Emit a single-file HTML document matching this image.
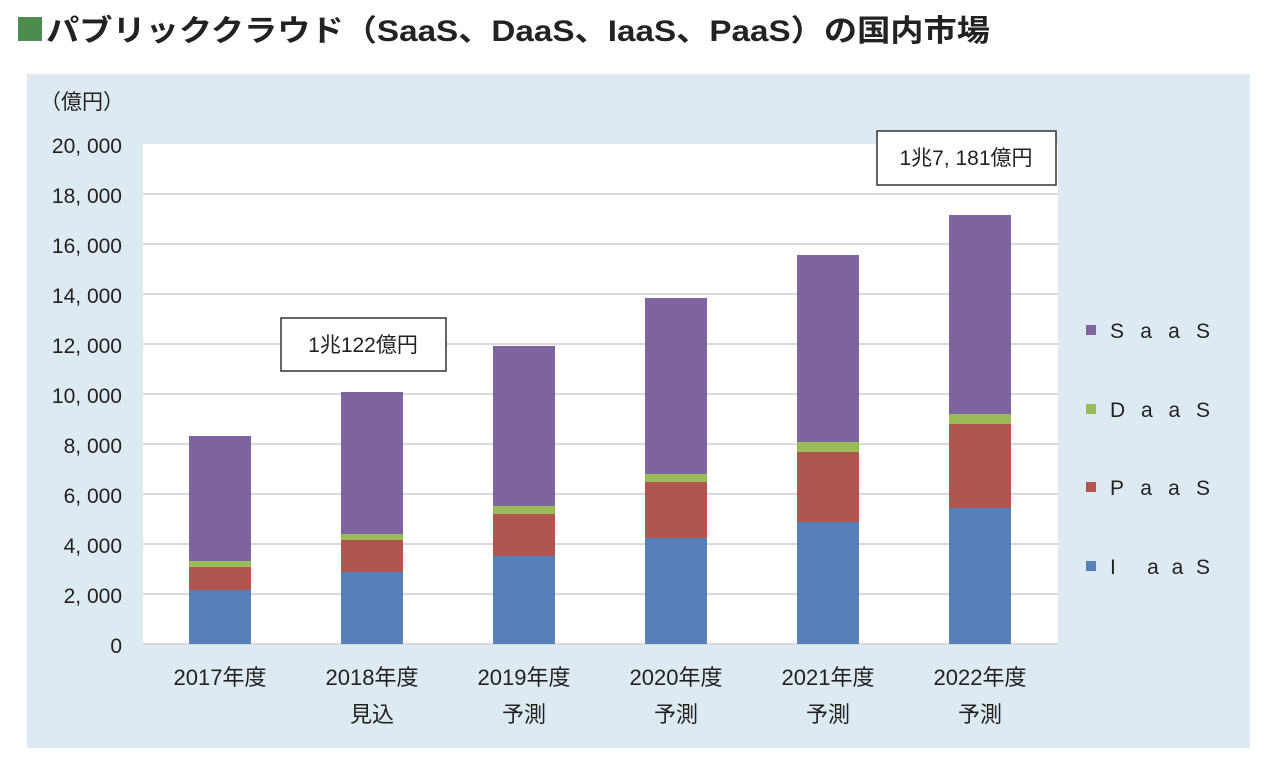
<!DOCTYPE html>
<html><head><meta charset="utf-8"><style>
body{margin:0;width:1276px;height:764px;background:#fff;overflow:hidden;font-family:"Liberation Sans","Noto Sans CJK JP",sans-serif;}
</style></head><body>
<svg width="1276" height="764" xmlns="http://www.w3.org/2000/svg" font-family="'Liberation Sans','Noto Sans CJK JP',sans-serif">
<rect x="18" y="17" width="24" height="24" fill="#4e8b4e"/>
<text x="46" y="41" font-size="30" font-weight="bold" fill="#222" textLength="944" lengthAdjust="spacingAndGlyphs">パブリッククラウド（SaaS、DaaS、IaaS、PaaS）の国内市場</text>
<rect x="27" y="74" width="1223" height="674" fill="#deeaf2"/>
<rect x="143" y="144" width="915" height="500" fill="#fff"/>
<g stroke="#d9d9d9" stroke-width="2">
<line x1="143" x2="1058" y1="194" y2="194"/><line x1="143" x2="1058" y1="244" y2="244"/>
<line x1="143" x2="1058" y1="294" y2="294"/><line x1="143" x2="1058" y1="344" y2="344"/>
<line x1="143" x2="1058" y1="394" y2="394"/><line x1="143" x2="1058" y1="444" y2="444"/>
<line x1="143" x2="1058" y1="494" y2="494"/><line x1="143" x2="1058" y1="544" y2="544"/>
<line x1="143" x2="1058" y1="594" y2="594"/><line x1="143" x2="1058" y1="644" y2="644"/>
</g>
<g font-size="21" fill="#222" text-anchor="end">
<text x="124" y="109">（億円）</text>
<text x="122" y="153">20, 000</text><text x="122" y="203">18, 000</text><text x="122" y="253">16, 000</text>
<text x="122" y="303">14, 000</text><text x="122" y="353">12, 000</text><text x="122" y="403">10, 000</text>
<text x="122" y="453">8, 000</text><text x="122" y="503">6, 000</text><text x="122" y="553">4, 000</text>
<text x="122" y="603">2, 000</text><text x="122" y="653">0</text>
</g>
<g>
<rect x="189" y="590" width="62" height="54" fill="#5880b8"/><rect x="189" y="567" width="62" height="23" fill="#b05550"/><rect x="189" y="561" width="62" height="6" fill="#9bbb59"/><rect x="189" y="436" width="62" height="125" fill="#7d649e"/>
<rect x="341" y="572" width="62" height="72" fill="#5880b8"/><rect x="341" y="540" width="62" height="32" fill="#b05550"/><rect x="341" y="534" width="62" height="6" fill="#9bbb59"/><rect x="341" y="392" width="62" height="142" fill="#7d649e"/>
<rect x="493" y="556" width="62" height="88" fill="#5880b8"/><rect x="493" y="514" width="62" height="42" fill="#b05550"/><rect x="493" y="506" width="62" height="8" fill="#9bbb59"/><rect x="493" y="346" width="62" height="160" fill="#7d649e"/>
<rect x="645" y="538" width="62" height="106" fill="#5880b8"/><rect x="645" y="482" width="62" height="56" fill="#b05550"/><rect x="645" y="474" width="62" height="8" fill="#9bbb59"/><rect x="645" y="298" width="62" height="176" fill="#7d649e"/>
<rect x="797" y="522" width="62" height="122" fill="#5880b8"/><rect x="797" y="452" width="62" height="70" fill="#b05550"/><rect x="797" y="442" width="62" height="10" fill="#9bbb59"/><rect x="797" y="255" width="62" height="187" fill="#7d649e"/>
<rect x="949" y="508" width="62" height="136" fill="#5880b8"/><rect x="949" y="424" width="62" height="84" fill="#b05550"/><rect x="949" y="414" width="62" height="10" fill="#9bbb59"/><rect x="949" y="215" width="62" height="199" fill="#7d649e"/>
</g>
<g font-size="22" fill="#222" text-anchor="middle">
<text x="220" y="685">2017年度</text>
<text x="372" y="685">2018年度</text><text x="372" y="722">見込</text>
<text x="524" y="685">2019年度</text><text x="524" y="722">予測</text>
<text x="676" y="685">2020年度</text><text x="676" y="722">予測</text>
<text x="828" y="685">2021年度</text><text x="828" y="722">予測</text>
<text x="980" y="685">2022年度</text><text x="980" y="722">予測</text>
</g>
<rect x="281" y="318" width="165" height="53" fill="#fff" stroke="#333" stroke-width="1.5"/>
<text x="363" y="352" font-size="21" fill="#222" text-anchor="middle">1兆122億円</text>
<rect x="877" y="131" width="179" height="54" fill="#fff" stroke="#333" stroke-width="1.5"/>
<text x="966" y="165" font-size="21" fill="#222" text-anchor="middle">1兆7, 181億円</text>
<g font-size="21" fill="#222">
<rect x="1086" y="325" width="10" height="10" fill="#7d649e"/><text x="1110" y="338" textLength="100">SaaS</text>
<rect x="1086" y="404" width="10" height="10" fill="#9bbb59"/><text x="1110" y="417" textLength="100">DaaS</text>
<rect x="1086" y="482" width="10" height="10" fill="#b05550"/><text x="1110" y="495" textLength="100">PaaS</text>
<rect x="1086" y="561" width="10" height="10" fill="#5880b8"/><text x="1110" y="574" textLength="100">I aaS</text>
</g>
</svg>
</body></html>
